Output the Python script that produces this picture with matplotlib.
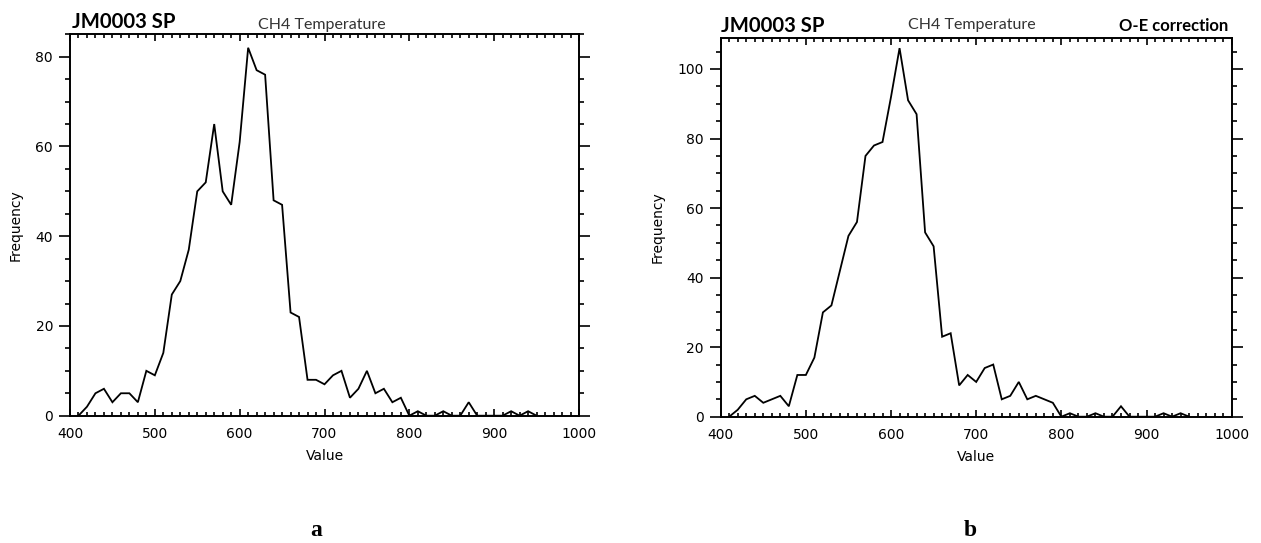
import matplotlib
matplotlib.use("Agg")
import matplotlib.pyplot as plt
from matplotlib.ticker import MultipleLocator

# Histogram bin values (CH4 temperature) for the two panels
bins = [410, 420, 430, 440, 450, 460, 470, 480, 490, 500,
        510, 520, 530, 540, 550, 560, 570, 580, 590, 600,
        610, 620, 630, 640, 650, 660, 670, 680, 690, 700,
        710, 720, 730, 740, 750, 760, 770, 780, 790, 800,
        810, 820, 830, 840, 850, 860, 870, 880, 890, 900,
        910, 920, 930, 940, 950]

freq_a = [0, 2, 5, 6, 3, 5, 5, 3, 10, 9,
          14, 27, 30, 37, 50, 52, 65, 50, 47, 61,
          82, 77, 76, 48, 47, 23, 22, 8, 8, 7,
          9, 10, 4, 6, 10, 5, 6, 3, 4, 0,
          1, 0, 0, 1, 0, 0, 3, 0, 0, 0,
          0, 1, 0, 1, 0]

freq_b = [0, 2, 5, 6, 4, 5, 6, 3, 12, 12,
          17, 30, 32, 42, 52, 56, 75, 78, 79, 92,
          106, 91, 87, 53, 49, 23, 24, 9, 12, 10,
          14, 15, 5, 6, 10, 5, 6, 5, 4, 0,
          1, 0, 0, 1, 0, 0, 3, 0, 0, 0,
          0, 1, 0, 1, 0]

x_range = (400, 1000)
x_ticks = [400, 500, 600, 700, 800, 900, 1000]
y_top_a = 85
y_top_b = 109

title_main = "JM0003 SP"
title_sub = "CH4 Temperature"
title_corr = "O-E correction"
panel_labels = ["a", "b"]

W, H = 1261, 543
fig = plt.figure(figsize=(W / 100, H / 100), dpi=100)
fig.patch.set_facecolor("white")


def px(x, y):
    return x / W, 1 - y / H


def draw_panel(ax, freq, ytop):
    ax.plot(bins, freq, color="black", lw=1.3, solid_joinstyle="miter")
    ax.set_xlim(*x_range)
    ax.set_ylim(0, ytop)
    ax.set_xticks(x_ticks)
    ax.xaxis.set_minor_locator(MultipleLocator(10))
    ax.yaxis.set_major_locator(MultipleLocator(20))
    ax.yaxis.set_minor_locator(MultipleLocator(5))
    for s in ax.spines.values():
        s.set_linewidth(1.4)
    ax.tick_params(axis="x", which="both", direction="in", top=True, bottom=True,
                   width=1.2, labelsize=10, pad=8)
    ax.tick_params(axis="x", which="major", length=5)
    ax.tick_params(axis="x", which="minor", length=3)
    ax.tick_params(axis="y", which="both", direction="out", left=True, right=True,
                   width=1.2, labelsize=10, pad=4.5)
    ax.tick_params(axis="y", which="major", length=7.7)
    ax.tick_params(axis="y", which="minor", length=3.6)
    ax.set_xlabel("Value", fontsize=10, labelpad=6)
    ax.set_ylabel("Frequency", fontsize=10, labelpad=9)


ax1 = fig.add_axes([70 / W, 1 - 415.7 / H, 509 / W, (415.7 - 34.3) / H])
draw_panel(ax1, freq_a, y_top_a)

ax2 = fig.add_axes([720.7 / W, 1 - 416.7 / H, 511 / W, (416.7 - 37.7) / H])
draw_panel(ax2, freq_b, y_top_b)

hdr = ["Lato", "DejaVu Sans"]
fig.text(*px(72, 28.5), title_main, family=hdr, weight="bold", fontsize=14.6,
         va="baseline", ha="left")
fig.text(*px(258, 28.5), title_sub, family=hdr, fontsize=11.5, color="#333333",
         va="baseline", ha="left")
fig.text(*px(721, 32.3), title_main, family=hdr, weight="bold", fontsize=14.6,
         va="baseline", ha="left")
fig.text(*px(908, 29.5), title_sub, family=hdr, fontsize=11.5, color="#333333",
         va="baseline", ha="left")
fig.text(*px(1228, 30.7), title_corr, family=hdr, weight="bold", fontsize=12,
         va="baseline", ha="right")

fig.text(*px(316, 536), panel_labels[0], family="Liberation Serif", weight="bold",
         fontsize=17, va="baseline", ha="center")
fig.text(*px(970, 536), panel_labels[1], family="Liberation Serif", weight="bold",
         fontsize=17, va="baseline", ha="center")

fig.savefig("out.png", dpi=100, facecolor="white")
